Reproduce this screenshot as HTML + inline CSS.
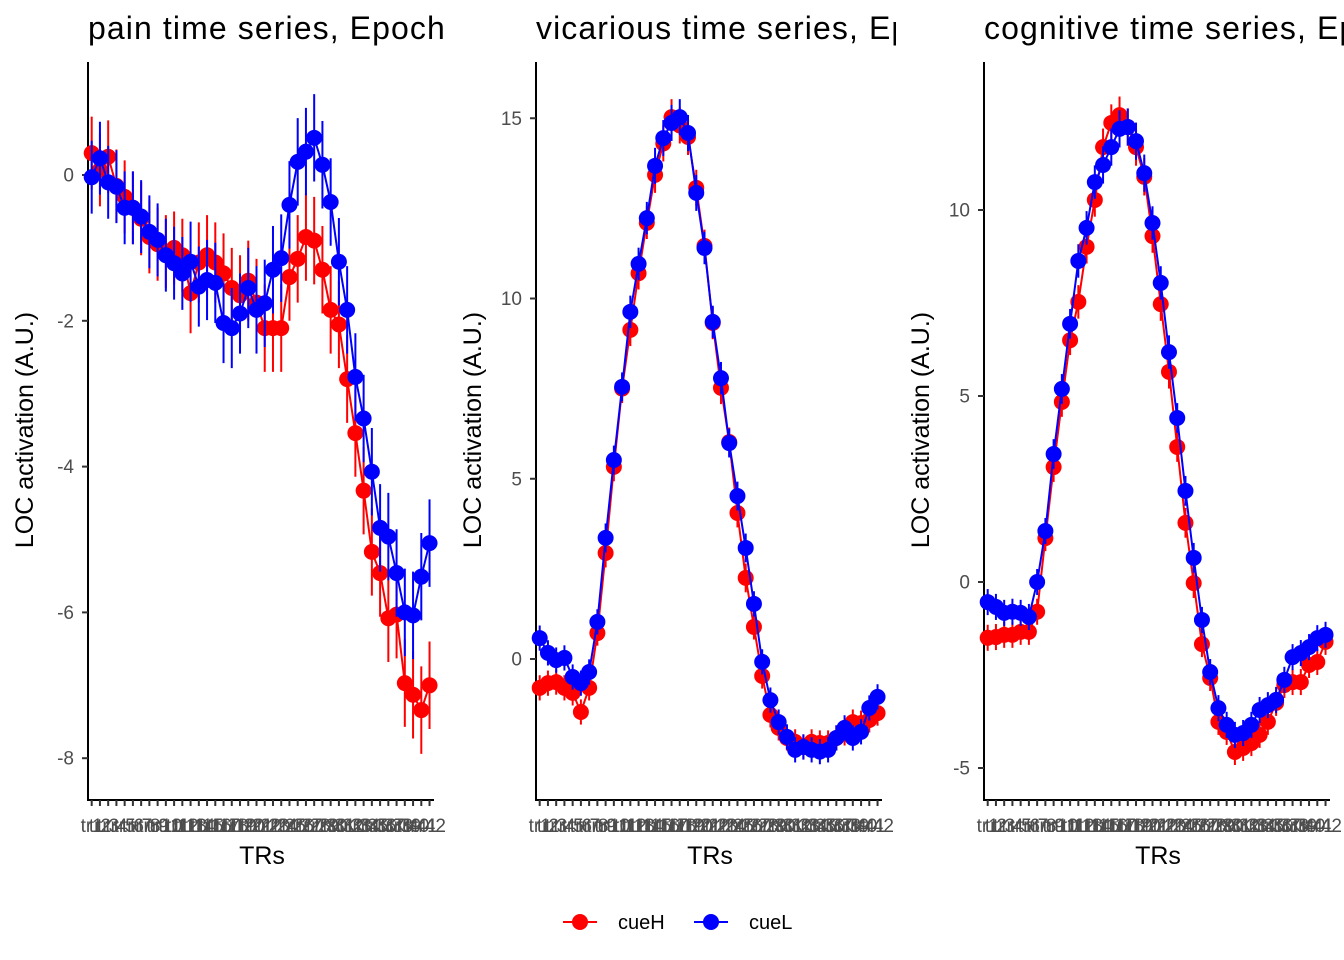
<!DOCTYPE html>
<html><head><meta charset="utf-8"><style>
html,body{margin:0;padding:0;background:#fff;}
svg{display:block;font-family:"Liberation Sans",Arial,sans-serif;}
</style></head><body>
<svg id="root" width="1344" height="960" viewBox="0 0 1344 960">
<g id="panels"></g>
<g>
<line x1="563" y1="922" x2="597" y2="922" stroke="#FF0000" stroke-width="2"/>
<circle cx="580" cy="922" r="8" fill="#FF0000"/>
<text x="618" y="929" font-size="20" fill="#000">cueH</text>
<line x1="694" y1="922" x2="728" y2="922" stroke="#0000FF" stroke-width="2"/>
<circle cx="711" cy="922" r="8" fill="#0000FF"/>
<text x="749" y="929" font-size="20" fill="#000">cueL</text>
</g>
</svg>
<script>
const painH=[0.3,0.07,0.25,-0.15,-0.3,-0.45,-0.6,-0.85,-0.95,-1.05,-1.0,-1.1,-1.62,-1.2,-1.1,-1.2,-1.35,-1.55,-1.65,-1.45,-1.75,-2.1,-2.1,-2.1,-1.4,-1.15,-0.85,-0.9,-1.3,-1.85,-2.05,-2.8,-3.54,-4.33,-5.17,-5.46,-6.08,-6.03,-6.97,-7.13,-7.34,-7.0];
const painL=[-0.03,0.23,-0.1,-0.16,-0.45,-0.45,-0.57,-0.78,-0.89,-1.1,-1.21,-1.35,-1.19,-1.53,-1.44,-1.48,-2.03,-2.1,-1.9,-1.55,-1.85,-1.76,-1.3,-1.14,-0.41,0.18,0.32,0.51,0.14,-0.37,-1.19,-1.85,-2.77,-3.34,-4.07,-4.84,-4.96,-5.46,-6.0,-6.04,-5.51,-5.05];
const painSE=[0.5,0.5,0.5,0.5,0.5,0.5,0.5,0.5,0.5,0.5,0.5,0.5,0.55,0.55,0.55,0.55,0.55,0.55,0.55,0.55,0.6,0.6,0.6,0.6,0.6,0.6,0.6,0.6,0.6,0.6,0.6,0.6,0.6,0.6,0.6,0.6,0.6,0.6,0.6,0.6,0.6,0.6];
const vicH=[-0.8,-0.67,-0.64,-0.8,-0.94,-1.47,-0.8,0.72,2.94,5.33,7.5,9.13,10.7,12.1,13.43,14.3,15.03,14.8,14.48,13.07,11.46,9.32,7.52,6.02,4.05,2.25,0.89,-0.47,-1.55,-1.91,-2.19,-2.3,-2.44,-2.3,-2.33,-2.33,-2.19,-2.05,-1.75,-1.78,-1.69,-1.5];
const vicL=[0.58,0.17,-0.03,0.03,-0.5,-0.67,-0.36,1.03,3.36,5.52,7.55,9.63,10.96,12.23,13.68,14.45,14.87,15.03,14.59,12.93,11.4,9.35,7.79,5.99,4.52,3.08,1.53,-0.08,-1.14,-1.75,-2.16,-2.52,-2.44,-2.52,-2.57,-2.52,-2.19,-1.91,-2.19,-2.02,-1.36,-1.05];
const vicSE=[0.35,0.35,0.35,0.35,0.35,0.35,0.35,0.35,0.4,0.4,0.4,0.45,0.45,0.45,0.5,0.5,0.5,0.5,0.5,0.5,0.45,0.45,0.45,0.4,0.4,0.4,0.35,0.35,0.35,0.35,0.35,0.35,0.35,0.35,0.35,0.35,0.35,0.35,0.35,0.35,0.35,0.35];
const cogH=[-1.5,-1.48,-1.42,-1.42,-1.34,-1.34,-0.8,1.18,3.09,4.84,6.5,7.53,9.01,10.27,11.69,12.34,12.55,12.23,11.69,10.89,9.3,7.47,5.65,3.63,1.59,-0.03,-1.67,-2.58,-3.76,-4.03,-4.57,-4.46,-4.33,-4.11,-3.76,-3.25,-2.77,-2.69,-2.69,-2.23,-2.15,-1.61];
const cogL=[-0.54,-0.67,-0.83,-0.8,-0.83,-0.94,0.0,1.37,3.44,5.19,6.94,8.63,9.52,10.75,11.21,11.69,12.18,12.23,11.85,10.99,9.65,8.04,6.18,4.41,2.45,0.65,-1.02,-2.42,-3.39,-3.84,-4.11,-4.06,-3.84,-3.44,-3.31,-3.17,-2.63,-2.02,-1.91,-1.75,-1.51,-1.42];
const cogSE=[0.35,0.35,0.35,0.35,0.35,0.35,0.35,0.35,0.4,0.4,0.4,0.45,0.45,0.45,0.5,0.5,0.5,0.5,0.5,0.5,0.45,0.45,0.45,0.4,0.4,0.4,0.35,0.35,0.35,0.35,0.35,0.35,0.35,0.35,0.35,0.35,0.35,0.35,0.35,0.35,0.35,0.35];
const trLabels=[];for(let i=1;i<=42;i++)trLabels.push('tr'+i);
const painTicks=[0,-2,-4,-6,-8];
const vicTicks=[0,5,10,15];
const cogTicks=[-5,0,5,10];
const titles=['pain time series, Epoch: stimulus','vicarious time series, Epoch: stimulus','cognitive time series, Epoch: stimulus'];

const NS='http://www.w3.org/2000/svg';
function mk(tag,attrs,parent){const e=document.createElementNS(NS,tag);for(const k in attrs)e.setAttribute(k,attrs[k]);parent.appendChild(e);return e;}
const root=document.getElementById('panels');
const panels=[
 {name:'pain',off:0,h:painH,l:painL,se:painSE,ticks:painTicks,y0:175,k:72.9},
 {name:'vicarious',off:448,h:vicH,l:vicL,se:vicSE,ticks:vicTicks,y0:659,k:36.05},
 {name:'cognitive',off:896,h:cogH,l:cogL,se:cogSE,ticks:cogTicks,y0:582,k:37.2}
];
panels.forEach((p,pi)=>{
 const svg=mk('svg',{x:p.off,y:0,width:448,height:890,overflow:'hidden'},root);
 
 
 const xs=i=>91.7+8.24*i;
 const ys=v=>p.y0-v*p.k;
 const t=mk('text',{x:88,y:39,'font-size':32,'letter-spacing':1.1,fill:'#000'},svg);t.textContent=titles[pi];
 
 
 const yt=mk('text',{x:0,y:0,'font-size':25,fill:'#000','text-anchor':'middle',transform:'translate(33,430) rotate(-90)'},svg);yt.textContent='LOC activation (A.U.)';
 
 
 const xt=mk('text',{x:262,y:864,'font-size':25,fill:'#000','text-anchor':'middle'},svg);xt.textContent='TRs';
 
 
 const ya=mk('line',{x1:88,y1:62,x2:88,y2:801,stroke:'#000','stroke-width':2},svg);
 
 
 p.ticks.forEach(v=>{
  mk('line',{x1:82,x2:88,y1:ys(v),y2:ys(v),stroke:'#333','stroke-width':2},svg);
  const tl=mk('text',{x:74,y:ys(v)+6.5,'font-size':19,fill:'#4D4D4D','text-anchor':'end'},svg);tl.textContent=v;
  
  
 });
 const xa=mk('line',{x1:87,y1:800,x2:434,y2:800,stroke:'#000','stroke-width':2},svg);
 
 
 trLabels.forEach((lab,i)=>{
  mk('line',{x1:xs(i),x2:xs(i),y1:800,y2:806,stroke:'#333','stroke-width':2},svg);
  const tl=mk('text',{x:xs(i),y:832,'font-size':19,fill:'#4D4D4D','text-anchor':'middle'},svg);tl.textContent=lab;
  
  
 });
 [[p.h,'#FF0000','cueh'],[p.l,'#0000FF','cuel']].forEach(([vals,col,nm])=>{
  const g=mk('g',{},svg);
  
  
  vals.forEach((v,i)=>{
   const eb=mk('line',{x1:xs(i),x2:xs(i),y1:ys(v+p.se[i]),y2:ys(v-p.se[i]),stroke:col,'stroke-width':2},g);
   
   
  });
  const pl=mk('polyline',{points:vals.map((v,i)=>xs(i)+','+ys(v)).join(' '),fill:'none',stroke:col,'stroke-width':2},g);
  
  
  vals.forEach((v,i)=>{
   const c=mk('circle',{cx:xs(i),cy:ys(v),r:8,fill:col},g);
   
   
  });
 });
});
</script>
</body></html>
